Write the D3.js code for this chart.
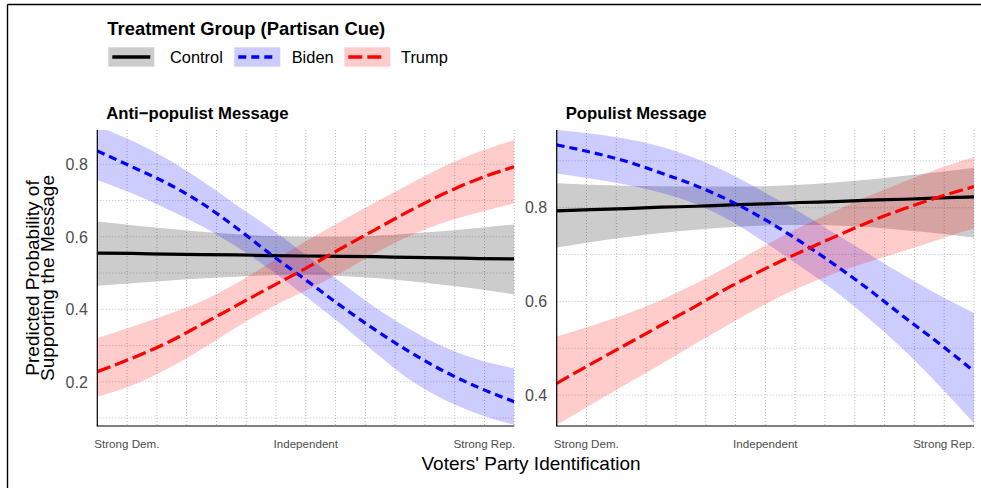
<!DOCTYPE html>
<html>
<head>
<meta charset="utf-8">
<script src="https://cdn.jsdelivr.net/npm/d3@7"></script>
<style>
  html, body { margin: 0; padding: 0; background: #fff; }
  svg { display: block; font-family: "Liberation Sans", Arial, Helvetica, sans-serif; }
</style>
</head>
<body>
<svg id="chart" width="981" height="488"></svg>
<script>
// Party identification scale (1 = Strong Dem., 7 = Strong Rep.), evaluated every half step
const pid = [1, 1.5, 2, 2.5, 3, 3.5, 4, 4.5, 5, 5.5, 6, 6.5, 7];
const pidTicks = [1, 4, 7];
const pidLabels = ["Strong Dem.", "Independent", "Strong Rep."];

const groups = ["Control", "Biden", "Trump"];
const groupColors = ["#000000", "#0000ff", "#ff0000"];
const groupDash = [null, "8,5", "14,5"];

const panelTitles = ["Anti\u2212populist Message", "Populist Message"];

// Anti-populist message: predicted probability and 95% band
const antiControlFit = [0.555, 0.554, 0.552, 0.551, 0.550, 0.548, 0.547, 0.546, 0.545, 0.543, 0.542, 0.540, 0.539];
const antiControlLo  = [0.465, 0.472, 0.479, 0.485, 0.490, 0.494, 0.495, 0.492, 0.486, 0.477, 0.467, 0.455, 0.441];
const antiControlHi  = [0.642, 0.632, 0.623, 0.614, 0.607, 0.602, 0.600, 0.600, 0.603, 0.609, 0.616, 0.625, 0.634];
const antiBidenFit   = [0.837, 0.793, 0.748, 0.693, 0.625, 0.551, 0.481, 0.410, 0.343, 0.282, 0.228, 0.183, 0.145];
const antiBidenLo    = [0.757, 0.720, 0.677, 0.630, 0.573, 0.508, 0.435, 0.360, 0.280, 0.205, 0.150, 0.110, 0.081];
const antiBidenHi    = [0.905, 0.865, 0.815, 0.755, 0.688, 0.622, 0.550, 0.475, 0.405, 0.345, 0.295, 0.260, 0.237];
const antiTrumpFit   = [0.228, 0.265, 0.307, 0.358, 0.410, 0.462, 0.513, 0.567, 0.620, 0.672, 0.720, 0.761, 0.793];
const antiTrumpLo    = [0.159, 0.190, 0.235, 0.290, 0.350, 0.405, 0.452, 0.500, 0.555, 0.603, 0.640, 0.668, 0.692];
const antiTrumpHi    = [0.320, 0.352, 0.385, 0.422, 0.472, 0.530, 0.588, 0.642, 0.695, 0.746, 0.795, 0.835, 0.867];

// Populist message: predicted probability and 95% band
const popControlFit = [0.793, 0.796, 0.798, 0.801, 0.803, 0.806, 0.808, 0.811, 0.813, 0.816, 0.818, 0.821, 0.823];
const popControlLo  = [0.715, 0.727, 0.737, 0.746, 0.753, 0.758, 0.762, 0.763, 0.762, 0.758, 0.752, 0.745, 0.736];
const popControlHi  = [0.852, 0.849, 0.847, 0.846, 0.845, 0.845, 0.846, 0.849, 0.854, 0.860, 0.868, 0.876, 0.885];
const popBidenFit   = [0.934, 0.918, 0.899, 0.874, 0.847, 0.814, 0.774, 0.728, 0.678, 0.624, 0.566, 0.510, 0.451];
const popBidenLo    = [0.873, 0.862, 0.849, 0.832, 0.808, 0.772, 0.725, 0.675, 0.622, 0.562, 0.495, 0.420, 0.340];
const popBidenHi    = [0.966, 0.958, 0.947, 0.930, 0.905, 0.872, 0.832, 0.790, 0.745, 0.700, 0.655, 0.613, 0.575];
const popTrumpFit   = [0.425, 0.467, 0.508, 0.549, 0.590, 0.632, 0.670, 0.705, 0.738, 0.770, 0.798, 0.823, 0.845];
const popTrumpLo    = [0.336, 0.380, 0.423, 0.466, 0.510, 0.553, 0.594, 0.630, 0.660, 0.685, 0.708, 0.732, 0.756];
const popTrumpHi    = [0.525, 0.548, 0.573, 0.603, 0.638, 0.678, 0.720, 0.758, 0.793, 0.826, 0.856, 0.884, 0.908];

const antiYTicks = [0.2, 0.4, 0.6, 0.8];
const popYTicks = [0.4, 0.6, 0.8];
const antiYDomain = [0.078, 0.8946];
const popYDomain = [0.334, 0.9658];

function rows(fit, lo, hi) {
  return pid.map((p, i) => ({ p, fit: fit[i], lo: lo[i], hi: hi[i] }));
}

const panels = [
  {
    title: panelTitles[0], left: 97.3, right: 514.3, yDomain: antiYDomain, yTicks: antiYTicks,
    series: [rows(antiControlFit, antiControlLo, antiControlHi),
             rows(antiBidenFit, antiBidenLo, antiBidenHi),
             rows(antiTrumpFit, antiTrumpLo, antiTrumpHi)]
  },
  {
    title: panelTitles[1], left: 556.7, right: 974, yDomain: popYDomain, yTicks: popYTicks,
    series: [rows(popControlFit, popControlLo, popControlHi),
             rows(popBidenFit, popBidenLo, popBidenHi),
             rows(popTrumpFit, popTrumpLo, popTrumpHi)]
  }
];

const svg = d3.select("#chart");
const panelTop = 130, panelBottom = 426;
const tickGrey = "#4d4d4d";
const gridGrey = "#bdbdbd";

// outer frame (top and left edges)
svg.append("line").attr("x1", 7.5).attr("x2", 981).attr("y1", 4.5).attr("y2", 4.5)
  .attr("stroke", "#000").attr("stroke-width", 1.4);
svg.append("line").attr("x1", 7.5).attr("x2", 7.5).attr("y1", 4.5).attr("y2", 488)
  .attr("stroke", "#000").attr("stroke-width", 1.4);

const defs = svg.append("defs");

panels.forEach((pan, k) => {
  const x = d3.scaleLinear().domain([1, 7]).range([pan.left, pan.right]);
  const y = d3.scaleLinear().domain(pan.yDomain).range([panelBottom, panelTop]);
  const g = svg.append("g");

  const clipId = "clip" + k;
  defs.append("clipPath").attr("id", clipId).append("rect")
    .attr("x", pan.left).attr("y", panelTop)
    .attr("width", pan.right - pan.left).attr("height", panelBottom - panelTop);

  // dotted grid: 15 vertical lines across the scale, horizontal every 0.1
  const vGrid = d3.range(15).map(i => 1 + i * 6 / 14);
  g.append("g").selectAll("line").data(vGrid).join("line")
    .attr("x1", d => x(d)).attr("x2", d => x(d)).attr("y1", panelTop).attr("y2", panelBottom)
    .attr("stroke", gridGrey).attr("stroke-width", 1).attr("stroke-dasharray", "1,2");
  const hGrid = d3.range(1, 10).map(i => i / 10).filter(v => v >= pan.yDomain[0] && v <= pan.yDomain[1]);
  g.append("g").selectAll("line").data(hGrid).join("line")
    .attr("x1", pan.left).attr("x2", pan.right).attr("y1", d => y(d)).attr("y2", d => y(d))
    .attr("stroke", gridGrey).attr("stroke-width", 1).attr("stroke-dasharray", "1,2");

  const plot = g.append("g").attr("clip-path", `url(#${clipId})`);
  const area = d3.area().x(d => x(d.p)).y0(d => y(d.lo)).y1(d => y(d.hi)).curve(d3.curveMonotoneX);
  const line = d3.line().x(d => x(d.p)).y(d => y(d.fit)).curve(d3.curveMonotoneX);

  pan.series.forEach((s, i) => {
    plot.append("path").datum(s).attr("d", area)
      .attr("fill", groupColors[i]).attr("fill-opacity", 0.2);
  });
  pan.series.forEach((s, i) => {
    plot.append("path").datum(s).attr("d", line)
      .attr("fill", "none").attr("stroke", groupColors[i]).attr("stroke-width", 3.2)
      .attr("stroke-dasharray", groupDash[i]);
  });

  // axis lines
  g.append("line").attr("x1", pan.left).attr("x2", pan.left).attr("y1", panelTop).attr("y2", panelBottom)
    .attr("stroke", "#000").attr("stroke-width", 1.2);
  g.append("line").attr("x1", pan.left - 0.6).attr("x2", pan.right).attr("y1", panelBottom).attr("y2", panelBottom)
    .attr("stroke", "#000").attr("stroke-width", 1.2);

  // y tick labels
  g.append("g").selectAll("text").data(pan.yTicks).join("text")
    .attr("x", pan.left - 9.5).attr("y", d => y(d)).attr("dy", "0.36em")
    .attr("text-anchor", "end").attr("font-size", 16).attr("fill", tickGrey)
    .text(d => d3.format(".1f")(d));

  // x tick labels
  g.append("g").selectAll("text").data(pidTicks).join("text")
    .attr("x", (d, i) => x(d) + (i === 0 ? -3 : i === 2 ? 1 : 0))
    .attr("y", 447.5)
    .attr("text-anchor", (d, i) => i === 0 ? "start" : i === 2 ? "end" : "middle")
    .attr("font-size", 11.6).attr("fill", tickGrey)
    .text((d, i) => pidLabels[i]);

  // panel title
  g.append("text").attr("x", pan.left + 9).attr("y", 119.3)
    .attr("font-size", 16.7).attr("font-weight", "bold").attr("fill", "#000")
    .text(pan.title);
});

// axis titles
svg.append("text").attr("x", 531).attr("y", 470).attr("text-anchor", "middle")
  .attr("font-size", 19).attr("fill", "#000").text("Voters' Party Identification");
const yTitle = svg.append("text").attr("transform", "translate(0,278) rotate(-90)")
  .attr("text-anchor", "middle").attr("font-size", 19).attr("fill", "#000");
yTitle.append("tspan").attr("x", 0).attr("y", 38.5).text("Predicted Probability of");
yTitle.append("tspan").attr("x", 0).attr("y", 54.3).text("Supporting the Message");

// legend
svg.append("text").attr("x", 107.3).attr("y", 35).attr("font-size", 18.4)
  .attr("font-weight", "bold").attr("fill", "#000").text("Treatment Group (Partisan Cue)");
const keyX = [108.3, 234.3, 344.3];
const labelX = [170, 291.7, 401];
const leg = svg.append("g").selectAll("g").data(groups).join("g");
leg.append("rect").attr("x", (d, i) => keyX[i]).attr("y", 47.3).attr("width", 46).attr("height", 19.4)
  .attr("fill", (d, i) => groupColors[i]).attr("fill-opacity", 0.2);
leg.append("line").attr("x1", (d, i) => keyX[i] + 4).attr("x2", (d, i) => keyX[i] + 42)
  .attr("y1", 57).attr("y2", 57)
  .attr("stroke", (d, i) => groupColors[i]).attr("stroke-width", 3.4)
  .attr("stroke-dasharray", (d, i) => groupDash[i]);
leg.append("text").attr("x", (d, i) => labelX[i]).attr("y", 63.3).attr("font-size", 16.4).attr("fill", "#000")
  .text(d => d);
</script>
</body>
</html>
